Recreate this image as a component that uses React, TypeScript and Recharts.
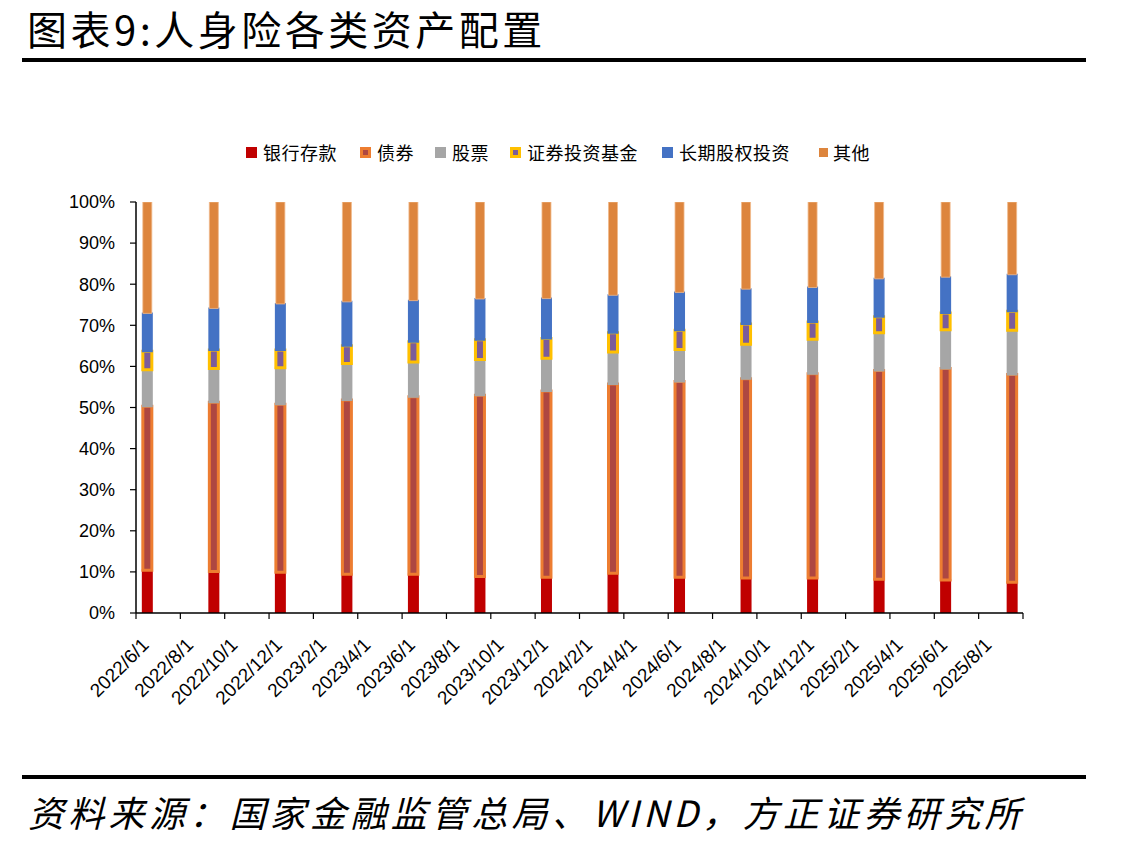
import { Bar, BarChart, XAxis, YAxis } from "recharts";

// quarter-end dates of each bar
const quarters = [
  "2022/6", "2022/9", "2022/12", "2023/3", "2023/6", "2023/9", "2023/12",
  "2024/3", "2024/6", "2024/9", "2024/12", "2025/3", "2025/6", "2025/9",
];

// shares of total (%)
const bankDeposits = [10.4, 10.1, 9.9, 9.4, 9.4, 8.9, 8.7, 9.7, 8.7, 8.5, 8.5, 8.2, 8.0, 7.5];
const bonds = [39.9, 41.2, 40.9, 42.4, 43.2, 44.1, 45.3, 46.0, 47.6, 48.5, 49.7, 50.8, 51.5, 50.5];
const stocks = [8.9, 8.2, 8.9, 8.9, 8.5, 8.7, 8.0, 7.8, 7.8, 8.4, 8.4, 9.2, 9.4, 10.8];
const funds = [4.5, 4.5, 4.3, 4.3, 4.9, 4.8, 4.8, 4.7, 4.7, 4.9, 4.2, 3.9, 4.1, 4.6];
const equity = [9.2, 10.1, 11.2, 10.7, 10.0, 9.9, 9.7, 9.1, 9.2, 8.5, 8.4, 9.2, 8.7, 8.9];
const others = [27.2, 26.0, 24.9, 24.4, 24.1, 23.7, 23.6, 22.8, 22.1, 21.3, 20.9, 18.8, 18.4, 17.8];

const xTickLabels = [
  "2022/6/1", "2022/8/1", "2022/10/1", "2022/12/1", "2023/2/1", "2023/4/1",
  "2023/6/1", "2023/8/1", "2023/10/1", "2023/12/1", "2024/2/1", "2024/4/1",
  "2024/6/1", "2024/8/1", "2024/10/1", "2024/12/1", "2025/2/1", "2025/4/1",
  "2025/6/1", "2025/8/1",
];
const yTicks = [0, 10, 20, 30, 40, 50, 60, 70, 80, 90, 100];

const START_YEAR = 2022;
const START_MONTH = 6;
const MONTHS = 40; // axis runs 2022/6/1 .. 2025/10/1

const monthIndex = (d: string) => {
  const [y, m] = d.split("/").map(Number);
  return (y - START_YEAR) * 12 + m - START_MONTH;
};

const data = quarters.map((q, i) => ({
  x: monthIndex(q) + 0.5,
  bank: bankDeposits[i],
  bond: bonds[i],
  stock: stocks[i],
  fund: funds[i],
  equity: equity[i],
  other: others[i],
}));

const W = 1130;
const H = 848;
const margin = { top: 202, right: 107, bottom: 155, left: 76 };
const halfMonth = (W - 136 - margin.right) / MONTHS / 2;

const CJK = '"Noto Sans CJK SC", sans-serif';

const XTick = (props: any) => {
  const { x, y, index } = props;
  const label = xTickLabels[index];
  if (!label) return null;
  const tx = x + halfMonth + 3;
  const ty = y + 27;
  return (
    <text
      x={tx}
      y={ty}
      textAnchor="end"
      fontSize={19}
      fontFamily="Liberation Sans, Arial, sans-serif"
      fill="#000"
      transform={`rotate(-45, ${tx}, ${ty})`}
    >
      {label}
    </text>
  );
};

const legendItems = [
  { name: "银行存款", left: 246, marker: { background: "#C00000" } },
  { name: "债券", left: 360, marker: { background: "#AE4741", border: "3px solid #ED7D31" } },
  { name: "股票", left: 435, marker: { background: "#A6A6A6" } },
  { name: "证券投资基金", left: 510, marker: { background: "#7B5C9A", border: "3px solid #FFC000" } },
  { name: "长期股权投资", left: 662, marker: { background: "#4472C4" } },
  { name: "其他", left: 818, marker: { background: "#DD853D" }, small: true },
];

export default function App() {
  return (
    <div
      style={{
        position: "absolute",
        left: 0,
        top: 0,
        width: W,
        height: H,
        background: "#fff",
        overflow: "hidden",
        fontFamily: CJK,
      }}
    >
      <div
        style={{
          position: "absolute",
          left: 27,
          top: 0,
          fontSize: 40,
          letterSpacing: 3.5,
          lineHeight: "56px",
          color: "#000",
          whiteSpace: "nowrap",
        }}
      >
        图表9:人身险各类资产配置
      </div>
      <div style={{ position: "absolute", left: 22, top: 58, width: 1064, height: 4, background: "#000" }} />

      {legendItems.map((it) => (
        <div
          key={it.name}
          style={{
            position: "absolute",
            left: it.left,
            top: 140,
            height: 24,
            display: "flex",
            alignItems: "center",
            fontSize: 18,
            letterSpacing: 0.5,
            color: "#000",
            whiteSpace: "nowrap",
          }}
        >
          <span
            style={{
              display: "inline-block",
              boxSizing: "border-box",
              width: it.small ? 9 : 11,
              height: it.small ? 9 : 11,
              marginRight: it.small ? 5 : 6,
              marginLeft: it.small ? 1 : 0,
              ...it.marker,
            }}
          />
          {it.name}
        </div>
      ))}

      <div style={{ position: "absolute", left: 0, top: 0 }}>
        <BarChart width={W} height={H} data={data} margin={margin} barSize={9}>
          <XAxis
            dataKey="x"
            type="number"
            domain={[0, MONTHS]}
            ticks={Array.from({ length: MONTHS / 2 + 1 }, (_, i) => i * 2)}
            interval={0}
            allowDataOverflow
            height={80}
            axisLine={{ stroke: "#000", strokeWidth: 1.5 }}
            tickLine={{ stroke: "#000", strokeWidth: 1.2 }}
            tickSize={6}
            tickMargin={0}
            tick={<XTick />}
          />
          <YAxis
            domain={[0, 100]}
            ticks={yTicks}
            allowDataOverflow
            width={60}
            axisLine={{ stroke: "#000", strokeWidth: 1.5 }}
            tickLine={{ stroke: "#000", strokeWidth: 1.2 }}
            tickSize={6}
            tickMargin={15}
            tickFormatter={(v: number) => `${v}%`}
            tick={{ fill: "#000", fontSize: 18, fontFamily: "Liberation Sans, Arial, sans-serif" }}
          />
          <Bar dataKey="bank" stackId="a" fill="#C00000" stroke="#C00000" strokeWidth={2} isAnimationActive={false} />
          <Bar dataKey="bond" stackId="a" fill="#AE4741" stroke="#ED7D31" strokeWidth={3} isAnimationActive={false} />
          <Bar dataKey="stock" stackId="a" fill="#A6A6A6" stroke="#A6A6A6" strokeWidth={2} isAnimationActive={false} />
          <Bar dataKey="fund" stackId="a" fill="#7B5C9A" stroke="#FFC000" strokeWidth={3} isAnimationActive={false} />
          <Bar dataKey="equity" stackId="a" fill="#4472C4" stroke="#4472C4" strokeWidth={2} isAnimationActive={false} />
          <Bar dataKey="other" stackId="a" fill="#DD853D" stroke="#F0B98A" strokeWidth={0.8} isAnimationActive={false} />
        </BarChart>
      </div>

      <div style={{ position: "absolute", left: 22, top: 775, width: 1064, height: 4, background: "#000" }} />
      <div
        style={{
          position: "absolute",
          left: 28,
          top: 787,
          fontSize: 36,
          fontStyle: "italic",
          letterSpacing: 4.3,
          lineHeight: "48px",
          color: "#000",
          whiteSpace: "nowrap",
        }}
      >
        资料来源：国家金融监管总局、WIND，方正证券研究所
      </div>
    </div>
  );
}
